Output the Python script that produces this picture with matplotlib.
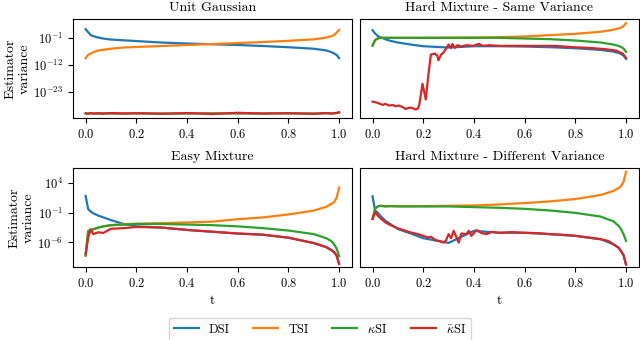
import matplotlib
matplotlib.use("Agg")
import matplotlib.pyplot as plt
import numpy as np
from matplotlib.ticker import NullLocator

plt.rcParams['font.family'] = 'serif'
plt.rcParams['font.serif'] = ['cmr10']
plt.rcParams['mathtext.fontset'] = 'cm'
plt.rcParams['axes.formatter.use_mathtext'] = True

# values are log10 of the estimator variance
t = [0, 0.01, 0.02, 0.03, 0.05, 0.07, 0.1, 0.15, 0.2, 0.3, 0.4, 0.5, 0.6, 0.7, 0.8, 0.9, 0.95, 0.97, 0.98, 0.99, 1.0]

# Unit Gaussian
ug_dsi = [2.4, 1.2, 0.0, -0.4, -1.0, -1.4, -1.8, -2.1, -2.4, -3.0, -3.4, -3.7, -4.0, -4.4, -4.9, -5.5, -6.2, -6.9, -7.4, -8.0, -9.3]
ug_tsi = [-9.3, -8.0, -7.4, -6.9, -6.2, -5.9, -5.5, -5.0, -4.8, -4.4, -4.0, -3.6, -3.2, -2.8, -2.3, -1.7, -1.0, -0.4, 0.0, 1.0, 2.1]
ug_ksi = [-31.7, -31.7, -31.6, -31.7, -31.7, -31.6, -31.7, -31.7, -31.6, -31.7, -31.7, -31.6, -31.7, -31.7, -31.6, -31.7, -31.6, -31.7, -31.6, -31.5, -31.3]
ug_kbsi = [-31.6, -31.8, -31.5, -31.7, -31.6, -31.8, -31.5, -31.7, -31.6, -31.8, -31.5, -31.9, -31.4, -31.7, -31.6, -31.8, -31.5, -31.7, -31.6, -31.4, -31.2]

# Easy Mixture
em_dsi = [1.8, -0.4, -0.8, -1.1, -1.5, -1.8, -2.25, -2.9, -3.3, -3.5, -3.9, -4.2, -4.5, -4.7, -5.2, -6.1, -6.8, -7.3, -7.6, -8.2, -9.6]
em_tsi = [-8.2, -4.1, -3.9, -3.8, -3.5, -3.3, -3.1, -2.95, -2.85, -2.75, -2.65, -2.5, -2.1, -1.8, -1.3, -0.65, 0.0, 0.5, 0.75, 1.5, 3.2]
em_ksi = [-8.2, -4.1, -3.9, -3.8, -3.5, -3.3, -3.1, -3.0, -2.9, -2.9, -3.0, -3.1, -3.3, -3.6, -4.0, -4.6, -5.3, -5.8, -6.3, -7.0, -8.3]
em_kbsi = [-7.9, -5.2, -3.8, -4.6, -4.3, -4.4, -3.7, -3.6, -3.4, -3.5, -3.9, -4.2, -4.5, -4.7, -5.2, -6.1, -6.8, -7.3, -7.6, -8.2, -9.6]

# Hard Mixture - Same Variance (no tick labels, arbitrary log units)
hs_dsi = [10.5, 9.5, 8.8, 8.4, 7.8, 7.3, 6.8, 6.2, 5.7, 5.3, 5.7, 5.7, 5.6, 5.4, 5.1, 4.6, 4.1, 3.7, 3.4, 2.9, 1.9]
hs_tsi = [6.0, 7.5, 8.0, 8.2, 8.2, 8.2, 8.2, 8.2, 8.2, 8.25, 8.3, 8.4, 8.6, 9.0, 9.4, 10.0, 10.6, 11.0, 11.2, 11.7, 12.6]
hs_ksi = [5.8, 7.5, 8.0, 8.2, 8.2, 8.2, 8.2, 8.2, 8.2, 8.2, 8.2, 8.2, 8.0, 7.8, 7.4, 6.8, 6.2, 5.8, 5.5, 5.0, 4.0]
hs_t_kb = [0, 0.02, 0.04, 0.05, 0.066, 0.08, 0.09, 0.105, 0.12, 0.13, 0.145, 0.16, 0.17, 0.18, 0.185, 0.19, 0.197,
           0.204, 0.21, 0.22, 0.23, 0.245, 0.255, 0.26, 0.27, 0.28, 0.29, 0.3, 0.31, 0.315, 0.325, 0.335, 0.35,
           0.37, 0.395, 0.42, 0.435, 0.46, 0.5, 0.6, 0.72, 0.79, 0.855, 0.92, 0.96, 0.987, 1.0]
hs_kbsi = [-10.8, -11.2, -11.8, -11.5, -12.0, -11.8, -12.2, -12.0, -12.5, -13.0, -12.6, -12.8, -13.2, -12.8, -11.5, -9.0, -5.5,
           -8.0, -10.2, -3.0, 3.2, 3.5, 3.0, 1.5, 3.2, 3.8, 5.0, 6.2, 5.2, 6.4, 5.2, 6.0, 5.6,
           6.0, 5.8, 6.4, 5.8, 6.0, 5.8, 5.8, 5.8, 5.4, 5.2, 4.8, 4.4, 3.5, 2.2]

# Hard Mixture - Different Variance (no tick labels, arbitrary log units)
hd_dsi = [5.2, 1.0, 0.4, -0.5, -2.0, -3.0, -4.5, -5.8, -7.2, -8.6, -5.0, -5.6, -5.6, -6.0, -6.5, -7.5, -9.0, -10.0, -11.0, -12.2, -15.0]
hd_tsi = [-1.5, 1.5, 2.2, 2.4, 2.3, 2.3, 2.3, 2.3, 2.3, 2.4, 2.5, 2.8, 3.2, 3.7, 4.4, 5.6, 6.8, 7.6, 8.2, 9.5, 12.5]
hd_ksi = [-1.5, 1.5, 2.2, 2.4, 2.2, 2.3, 2.2, 2.2, 2.2, 2.2, 2.0, 1.8, 1.5, 1.0, 0.3, -0.8, -2.2, -3.5, -4.5, -6.0, -8.0]
hd_t_kb = [0, 0.01, 0.02, 0.03, 0.05, 0.07, 0.1, 0.13, 0.15, 0.18, 0.2, 0.22, 0.23, 0.25, 0.27, 0.28, 0.29, 0.3,
           0.31, 0.32, 0.33, 0.34, 0.35, 0.37, 0.38, 0.39, 0.41, 0.43, 0.45, 0.47, 0.5, 0.55, 0.6, 0.65, 0.7,
           0.75, 0.8, 0.85, 0.9, 0.93, 0.95, 0.97, 0.98, 0.99, 1.0]
hd_kbsi = [-1.5, 0.5, -0.5, -1.2, -2.5, -3.3, -4.3, -5.0, -5.5, -6.0, -6.5, -7.0, -6.8, -7.8, -8.2, -8.5, -7.8, -6.0,
           -7.2, -5.0, -6.8, -8.5, -5.8, -6.0, -5.0, -6.5, -4.8, -5.7, -6.0, -5.3, -5.6, -5.4, -5.6, -5.7, -6.0,
           -6.2, -6.5, -7.0, -7.5, -8.0, -9.0, -10.0, -11.0, -12.2, -15.0]

labels = ['DSI', 'TSI', r'$\kappa$SI', r'$\bar{\kappa}$SI']
colors = ['#1f77b4', '#ff7f0e', '#2ca02c', '#d62728']


def drawPanel(ax, title, series, ylim, yticks):
    ''' plot the four estimators on a log axis '''
    for (tt, vals), c, lab in zip(series, colors, labels):
        ax.plot(tt, 10.0 ** np.array(vals), color=c, lw=1.6, label=lab)
    ax.set_yscale('log')
    ax.set_ylim(10.0 ** ylim[0], 10.0 ** ylim[1])
    ax.set_yticks(yticks)
    ax.yaxis.set_minor_locator(NullLocator())
    ax.set_title(title, fontsize=10)
    ax.tick_params(labelsize=9)


fig, axes = plt.subplots(2, 2, figsize=(6.4, 3.4), dpi=100)
fig.subplots_adjust(left=0.114, right=0.998, top=0.944, bottom=0.215, wspace=0.029, hspace=0.505)

drawPanel(axes[0, 0], 'Unit Gaussian',
          [(t, ug_dsi), (t, ug_tsi), (t, ug_ksi), (t, ug_kbsi)], (-33.5, 6.5), [1e-1, 1e-12, 1e-23])
drawPanel(axes[0, 1], 'Hard Mixture - Same Variance',
          [(t, hs_dsi), (t, hs_tsi), (t, hs_ksi), (hs_t_kb, hs_kbsi)], (-15.7, 13.8), [])
drawPanel(axes[1, 0], 'Easy Mixture',
          [(t, em_dsi), (t, em_tsi), (t, em_ksi), (t, em_kbsi)], (-10.1, 6.5), [1e4, 1e-1, 1e-6])
drawPanel(axes[1, 1], 'Hard Mixture - Different Variance',
          [(t, hd_dsi), (t, hd_tsi), (t, hd_ksi), (hd_t_kb, hd_kbsi)], (-15.7, 13.6), [])

for ax in axes[:, 0]:
    ax.set_ylabel('Estimator\nvariance', fontsize=10, labelpad=2)
for ax in axes[1, :]:
    ax.set_xlabel('t', fontsize=10)
for ax in axes.flat:
    ax.set_xticks([0.0, 0.2, 0.4, 0.6, 0.8, 1.0])

handles, labs = axes[0, 0].get_legend_handles_labels()
fig.legend(handles, labs, loc='lower center', ncol=4, fontsize=9, bbox_to_anchor=(0.5, -0.02),
           handlelength=2.0, columnspacing=1.9)

fig.savefig('out.png', dpi=100)
